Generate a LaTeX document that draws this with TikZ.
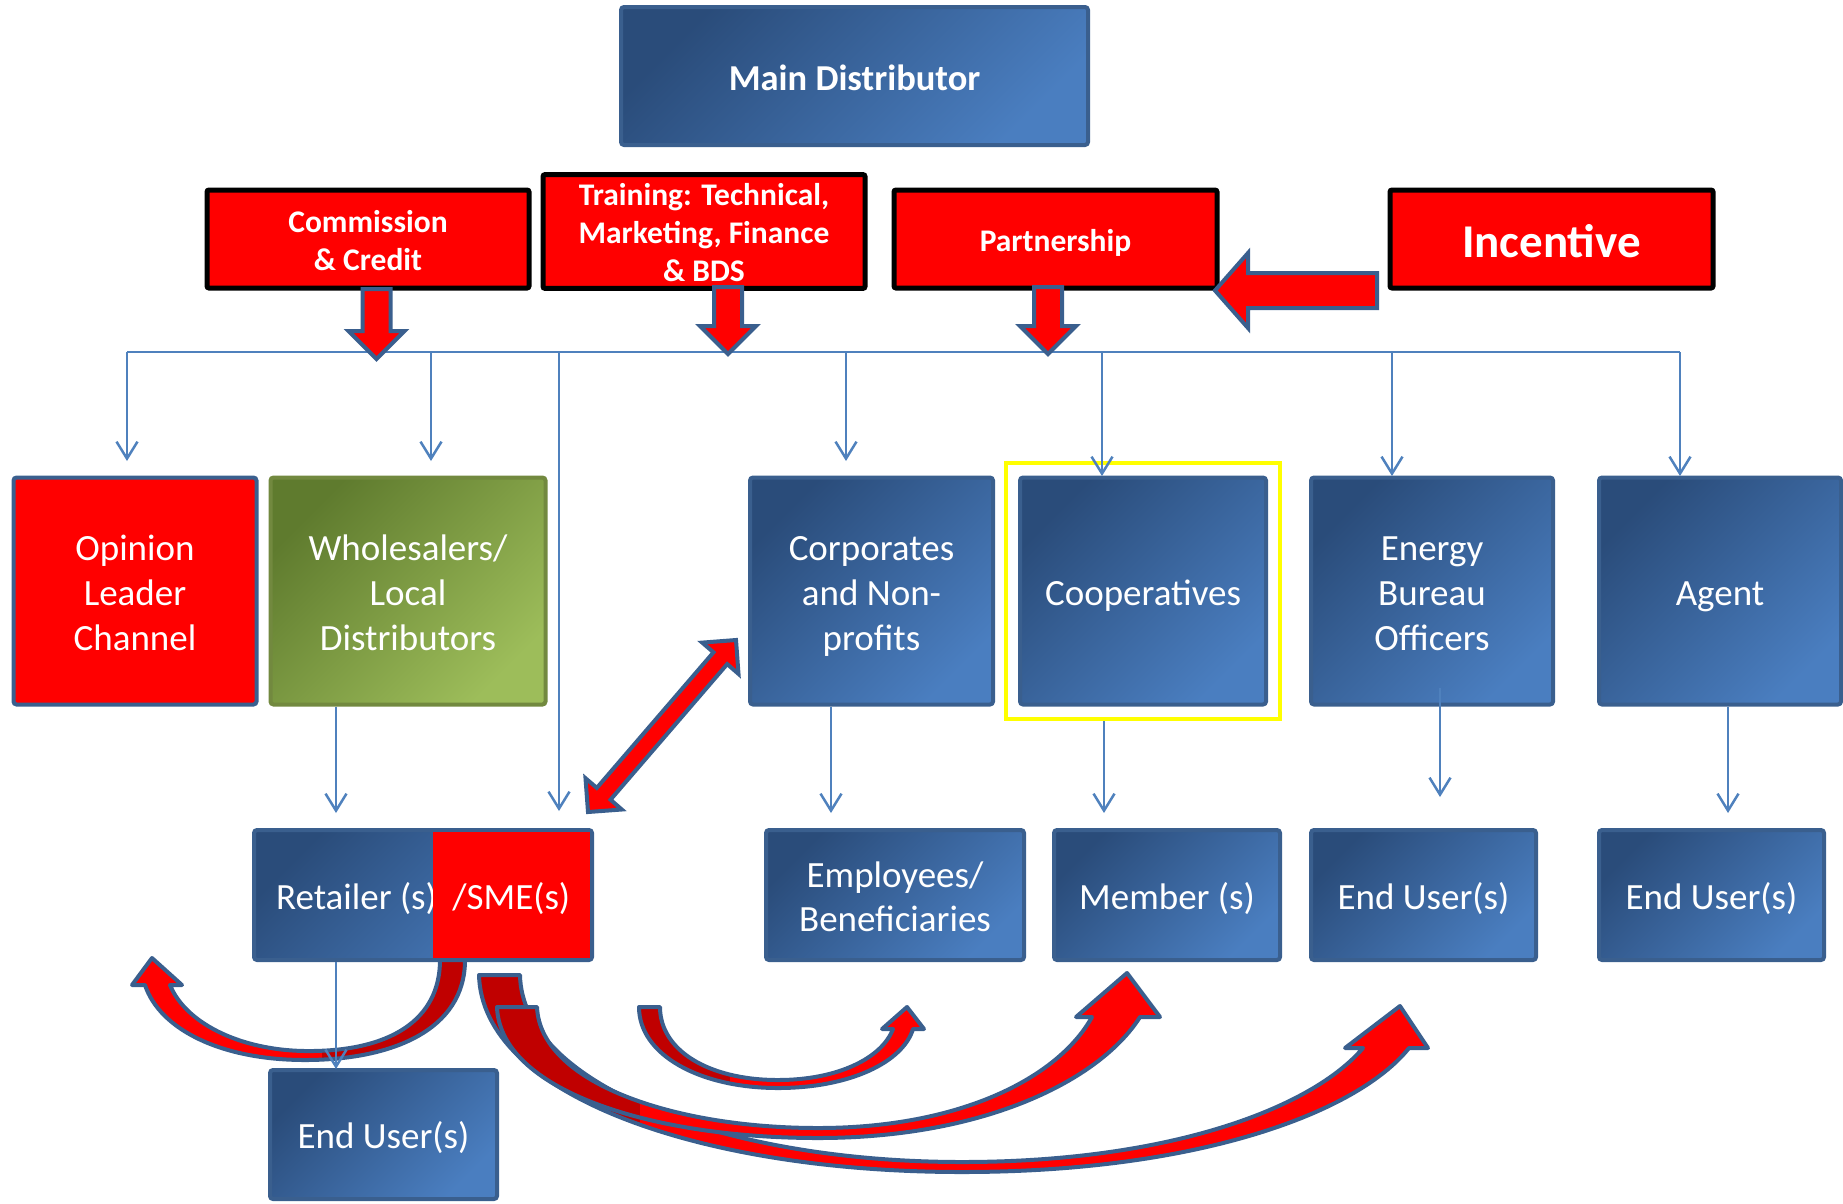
\documentclass[tikz,border=0pt]{standalone}
\usepackage{fontspec}
\setmainfont{Carlito}
\usetikzlibrary{arrows.meta,calc}
\definecolor{bdark}{HTML}{2A4C7A}
\definecolor{blight}{HTML}{4A7EC0}
\definecolor{bline}{HTML}{3A5F8E}
\definecolor{conncol}{HTML}{4F81BD}
\definecolor{gdark}{HTML}{5F7B2E}
\definecolor{glight}{HTML}{9DBD5A}
\definecolor{gline}{HTML}{72893F}
\definecolor{rred}{HTML}{FF0000}
\definecolor{rdark}{HTML}{C00000}
\definecolor{hyel}{HTML}{FFFF00}
\newcommand\fbody{\fontsize{37}{44.6}\selectfont}
\newcommand\flab{\fontsize{31.5}{38}\selectfont\bfseries}
\newcommand\fmain{\fontsize{36.5}{44}\selectfont\bfseries}
\newcommand\finc{\fontsize{47}{56.6}\selectfont\bfseries}
% line strut: PowerPoint-like ascent/descent
\newcommand\ps{\rule[-0.21em]{0pt}{1.2em}}
% curved ribbon arrows (image pixel coordinates, y downward)
\def\arcA{(465,960) .. controls (465,1030) and (392,1060) .. (305,1060) .. controls (222,1060) and (160,1030) .. (145,985) -- (132,985) -- (152,958) -- (182,985) -- (170,985) .. controls (185,1022) and (238,1050) .. (305,1051) .. controls (390,1052) and (440,1020) .. (440,960) -- cycle}
\def\arcB{(639,1007) .. controls (639,1055) and (700,1088) .. (778,1088) .. controls (850,1088) and (903,1062) .. (913,1029) -- (924,1029) -- (907,1007) -- (882,1029) -- (893,1029) .. controls (882,1058) and (838,1080) .. (778,1080) .. controls (708,1080) and (660,1050) .. (660,1007) -- cycle}
\def\arcC{(497,1007) .. controls (500,1090) and (650,1138) .. (818,1138) .. controls (985,1138) and (1100,1080) .. (1140,1017) -- (1160,1017) -- (1127,973) -- (1076,1017) -- (1092,1017) .. controls (1058,1078) and (960,1128) .. (818,1128) .. controls (672,1128) and (540,1082) .. (537,1007) -- cycle}
\def\arcD{(479,975) .. controls (482,1095) and (700,1172) .. (962,1172) .. controls (1200,1172) and (1358,1112) .. (1409,1048) -- (1428,1048) -- (1400,1006) -- (1345,1048) -- (1363,1048) .. controls (1312,1108) and (1170,1162) .. (962,1162) .. controls (725,1162) and (522,1085) .. (520,975) -- cycle}
\newcommand\blockdown[4]{%
  \draw[barrow] (#1-14,#2) -- (#1+14,#2) -- (#1+14,#3) -- (#1+28,#3) -- (#1,#4) -- (#1-28,#3) -- (#1-14,#3) -- cycle;}
\newcommand\ribbon[3]{% path, clip rectangle corners
  \fill[rred] #1;
  \begin{scope}\clip #1; \fill[rdark] #2 rectangle #3; \end{scope}
  \draw[ribbonline] #1;}
\begin{document}
\begin{tikzpicture}[x=1pt,y=-1pt,
  bluebox/.style={draw=bline, line width=4pt, rounded corners=3pt,
    top color=bdark, bottom color=blight, shading angle=45,
    text=white, align=center, inner sep=0pt, font=\fbody},
  greenbox/.style={bluebox, draw=gline, top color=gdark, bottom color=glight, shading angle=45},
  redbox/.style={draw=bline, line width=4pt, rounded corners=3pt, fill=rred,
    text=white, align=center, inner sep=0pt, font=\fbody},
  redlab/.style={draw=black, line width=5pt, rounded corners=2pt, fill=rred,
    text=white, align=center, inner sep=0pt, font=\flab},
  txt/.style={text=white, inner sep=0pt, font=\fbody},
  conn/.style={draw=conncol, line width=2.5pt, -{Straight Barb[length=17pt,width=21pt]}},
  busline/.style={draw=conncol, line width=2.5pt},
  barrow/.style={fill=rred, draw=bline, line width=4pt, line join=miter},
  ribbonline/.style={draw=bline, line width=4pt, line join=round}]
\useasboundingbox (0,0) rectangle (1843,1203);

% ---------- top row ----------
\node[bluebox, font=\fmain, minimum width=467pt, minimum height=138pt] (main) at (854.5,76) {\ps Main Distributor};
\node[redlab, minimum width=322pt, minimum height=98pt] (comm) at (368,239) {\ps Commission\\\ps\& Credit};
\node[redlab, minimum width=322pt, minimum height=113pt] (train) at (704,231.5) {\ps Training: Technical,\\\ps Marketing, Finance\\\ps\& BDS};
\node[redlab, minimum width=323pt, minimum height=98pt] (part) at (1055.5,239) {\ps Partnership};
\node[redlab, font=\finc, minimum width=323pt, minimum height=98pt] (inc) at (1551.5,239) {\ps Incentive};

% ---------- second row ----------
\node[redbox, minimum width=243pt, minimum height=227pt] (op) at (135,591) {\ps Opinion\\\ps Leader\\\ps Channel};
\node[greenbox, minimum width=275pt, minimum height=227pt] (whole) at (408,591) {\ps Wholesalers/\\\ps Local\\\ps Distributors};
\node[bluebox, minimum width=243pt, minimum height=227pt] (corp) at (871.5,591) {\ps Corporates\\\ps and Non-\\\ps profits};
\node[bluebox, minimum width=246pt, minimum height=227pt] (coop) at (1143,591) {\ps Cooperatives};
\node[draw=hyel, line width=4pt, minimum width=274pt, minimum height=256pt, inner sep=0pt] (yel) at (1143,591) {};
\node[bluebox, minimum width=242pt, minimum height=227pt] (energy) at (1432,591) {\ps Energy\\\ps Bureau\\\ps Officers};
\node[bluebox, minimum width=242pt, minimum height=227pt] (agent) at (1720,591) {\ps Agent};

% ---------- third row ----------
\node[bluebox, minimum width=338pt, minimum height=130pt] (retail) at (423,895) {};
\node[txt] (rtxt) at (356.5,895) {\ps Retailer (s)};
\node[fill=rred, inner sep=0pt, minimum width=157.4pt, minimum height=126pt, text=white, font=\fbody] (sme) at (511.3,895) {\ps /SME(s)};
\node[bluebox, minimum width=258pt, minimum height=130pt] (emp) at (895,895) {\ps Employees/\\\ps Beneficiaries};
\node[bluebox, minimum width=226pt, minimum height=130pt] (member) at (1167,895) {\ps Member (s)};
\node[bluebox, minimum width=225pt, minimum height=130pt] (eu3) at (1423.5,895) {\ps End User(s)};
\node[bluebox, minimum width=225pt, minimum height=130pt] (eu4) at (1711.5,895) {\ps End User(s)};
\node[bluebox, minimum width=227pt, minimum height=129pt] (eu1) at (383.5,1134.5) {\ps End User(s)};

% ---------- distribution bus ----------
\coordinate (busL) at (127,352);
\coordinate (busR) at (1680,352);
\coordinate (dOp) at (127,461);
\coordinate (dWh) at (431,461);
\coordinate (dSme) at (559,811);
\coordinate (dCo) at (846,461);
\coordinate (dCp) at (1102,476);
\coordinate (dEn) at (1392,476);
\coordinate (dAg) at (1680,476);
\draw[busline] (busL) -- (busR);
\draw[conn] (busL) -- (dOp);
\draw[conn] (busL -| dWh) -- (dWh);
\draw[conn] (busL -| dSme) -- (dSme);
\draw[conn] (busL -| dCo) -- (dCo);
\draw[conn] (busL -| dCp) -- (dCp);
\draw[conn] (busL -| dEn) -- (dEn);
\draw[conn] (busR) -- (dAg);

% ---------- second to third row ----------
\coordinate (wE) at (336,813);
\coordinate (cE) at (831,813);
\coordinate (mE) at (1104,813);
\coordinate (eS) at (1440,688);
\coordinate (eE) at (1440,797);
\coordinate (aE) at (1728,813);
\coordinate (rE) at (336,1069);
\draw[conn] (whole.south -| wE) -- (wE);
\draw[conn] (corp.south -| cE) -- (cE);
\draw[conn] (yel.south -| mE) -- (mE);
\draw[conn] (eS) -- (eE);
\draw[conn] (agent.south -| aE) -- (aE);

% ---------- block arrows ----------
\blockdown{376.5}{289}{331}{359}
\blockdown{728}{287}{326}{354}
\blockdown{1048}{287}{326}{354}
\draw[barrow] (1377,273) -- (1248,273) -- (1248,253) -- (1215,290.5) -- (1248,328) -- (1248,308) -- (1377,308) -- cycle;

% double arrow SME <-> Corporates
\draw[barrow] (588,812) -- (621.8,809.5) -- (610.5,799.7) -- (727.2,664.1) -- (738.5,673.9) -- (736,640)
  -- (702.2,642.6) -- (713.5,652.3) -- (596.8,787.9) -- (585.5,778.2) -- cycle;

% ---------- curved ribbon arrows ----------
\ribbon{\arcD}{(400,950)}{(640,1200)}
\ribbon{\arcC}{(400,950)}{(640,1200)}
\ribbon{\arcA}{(322,940)}{(480,1080)}
\ribbon{\arcB}{(620,990)}{(730,1100)}

\draw[conn] (retail.south -| rE) -- (rE);
\end{tikzpicture}
\end{document}
